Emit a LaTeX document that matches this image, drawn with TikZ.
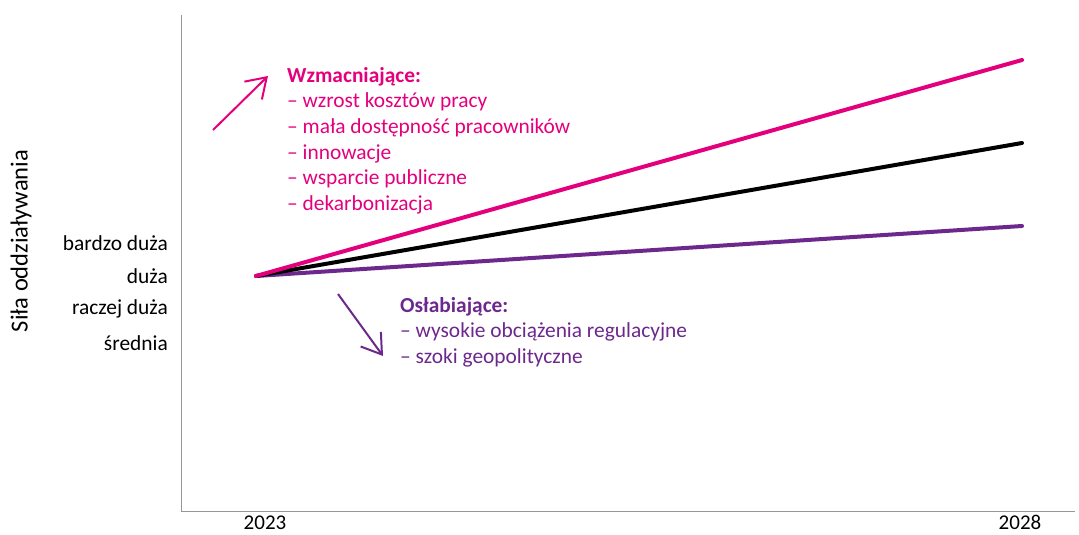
\documentclass[tikz,border=0pt]{standalone}
\usepackage{fontspec}
\setmainfont{Carlito}
\usetikzlibrary{arrows.meta}
\definecolor{strong}{RGB}{228,0,124}
\definecolor{weak}{RGB}{108,40,140}
\definecolor{axisgray}{RGB}{150,150,150}
\begin{document}
\begin{tikzpicture}[x=1pt,y=-1pt,
  trend/.style={line width=4pt,line cap=round},
  factor/.style={anchor=north west,align=left,inner sep=0pt,font=\fontsize{21.4}{25.6}\selectfont},
  level/.style={anchor=east,inner sep=0pt,font=\fontsize{21.4}{24}\selectfont},
  year/.style={anchor=base,inner sep=0pt,font=\fontsize{21}{24}\selectfont},
  hint/.style={line width=2pt,-{Straight Barb[length=19pt,width=25pt,line width=2pt]}}]
\useasboundingbox (0,0) rectangle (1079,535);
% axes
\coordinate (top) at (181,15);
\coordinate (origin) at (181,511);
\coordinate (right) at (1075,511);
\draw[axisgray,line width=1pt] (top) -- (origin) -- (right);
% trend lines from 2023 to 2028
\coordinate (start) at (256,276);
\coordinate (endW) at (1022,226);
\coordinate (endB) at (1022,143);
\coordinate (endS) at (1022,60);
\draw[trend,weak] (start) -- (endW);
\draw[trend,black] (start) -- (endB);
\draw[trend,strong] (start) -- (endS);
% level labels
\node[level] (l1) at (168,243) {bardzo duża};
\node[level] (l2) at (168,276) {duża};
\node[level] (l3) at (168,309) {raczej duża};
\node[level] (l4) at (168,343) {średnia};
\node[rotate=90,inner sep=0pt,font=\fontsize{24.5}{28}\selectfont] (ylab) at (21,241) {Siła oddziaływania};
% years
\node[year] (y1) at (265,529) {2023};
\node[year] (y2) at (1020,529) {2028};
% strengthening factors
\coordinate (a1s) at (213,130);
\coordinate (a1e) at (268,76);
\draw[hint,strong] (a1s) -- (a1e);
\node[factor,text=strong] (up) at (287,67) {\textbf{Wzmacniające:}\\– wzrost kosztów pracy\\– mała dostępność pracowników\\– innowacje\\– wsparcie publiczne\\– dekarbonizacja};
% weakening factors
\coordinate (a2s) at (338,294);
\coordinate (a2e) at (383,356);
\draw[hint,weak] (a2s) -- (a2e);
\node[factor,text=weak] (down) at (400,297) {\textbf{Osłabiające:}\\– wysokie obciążenia regulacyjne\\– szoki geopolityczne};
\end{tikzpicture}
\end{document}
